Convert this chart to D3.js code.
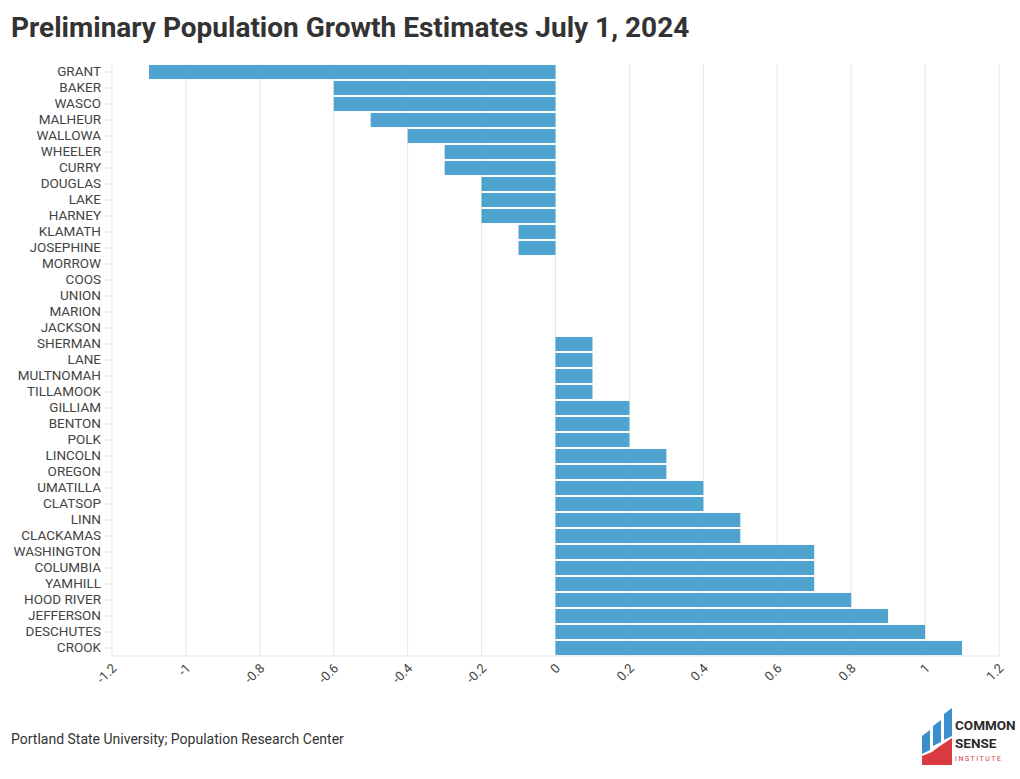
<!DOCTYPE html>
<html><head><meta charset="utf-8">
<script src="https://cdn.jsdelivr.net/npm/d3@7"></script>
<style>body{margin:0;background:#fff;font-family:Roboto,sans-serif;}</style>
</head><body><svg id="c" width="1020" height="779"></svg>
<script>
const counties = ["GRANT","BAKER","WASCO","MALHEUR","WALLOWA","WHEELER","CURRY","DOUGLAS","LAKE","HARNEY","KLAMATH","JOSEPHINE","MORROW","COOS","UNION","MARION","JACKSON","SHERMAN","LANE","MULTNOMAH","TILLAMOOK","GILLIAM","BENTON","POLK","LINCOLN","OREGON","UMATILLA","CLATSOP","LINN","CLACKAMAS","WASHINGTON","COLUMBIA","YAMHILL","HOOD RIVER","JEFFERSON","DESCHUTES","CROOK"];
const growth = [-1.1,-0.6,-0.6,-0.5,-0.4,-0.3,-0.3,-0.2,-0.2,-0.2,-0.1,-0.1,0,0,0,0,0,0.1,0.1,0.1,0.1,0.2,0.2,0.2,0.3,0.3,0.4,0.4,0.5,0.5,0.7,0.7,0.7,0.8,0.9,1.0,1.1];
const xTicks = [-1.2,-1,-0.8,-0.6,-0.4,-0.2,0,0.2,0.4,0.6,0.8,1,1.2];
const title = "Preliminary Population Growth Estimates July 1, 2024";
const source = "Portland State University; Population Research Center";

const svg = d3.select("#c");
const L = 112, R = 999, T = 64, B = 656;
const x = d3.scaleLinear().domain([-1.2,1.2]).range([L,R]);
const y = d3.scaleBand().domain(counties).range([T,B]).paddingInner(0.12).paddingOuter(0.06);

svg.append("text").attr("x",11).attr("y",37).text(title)
  .attr("font-size",28).attr("font-weight",700).attr("fill","#333").attr("font-family","Roboto");

// gridlines
svg.append("g").selectAll("line").data(xTicks).join("line")
  .attr("x1",d=>x(d)).attr("x2",d=>x(d)).attr("y1",T).attr("y2",B)
  .attr("stroke","#e6e6e6").attr("stroke-width",1);
svg.append("line").attr("x1",L).attr("x2",R).attr("y1",B).attr("y2",B).attr("stroke","#e6e6e6");

// bars
svg.append("g").selectAll("rect").data(counties).join("rect")
  .attr("x",(d,i)=>x(Math.min(0,growth[i])))
  .attr("width",(d,i)=>Math.abs(x(growth[i])-x(0)))
  .attr("y",d=>y(d)).attr("height",y.bandwidth())
  .attr("fill","#4ea3cf");

// y axis
const ya = svg.append("g").attr("transform",`translate(${L},0)`)
  .call(d3.axisLeft(y).tickSize(8).tickPadding(3));
ya.select(".domain").remove();
ya.selectAll("line").attr("stroke","#e6e6e6");
ya.selectAll("text").attr("font-size",13.5).attr("fill","#444").attr("font-family","Roboto");

// x axis
const xa = svg.append("g").attr("transform",`translate(0,${B})`)
  .call(d3.axisBottom(x).tickValues(xTicks).tickSize(0).tickPadding(0).tickFormat(d=>String(d)));
xa.select(".domain").remove();
xa.selectAll("text").attr("font-size",13).attr("fill","#444").attr("font-family","Roboto")
  .attr("text-anchor","end").attr("dy",0)
  .attr("transform","translate(5,13) rotate(-45)");

svg.append("text").attr("x",11).attr("y",744).text(source)
  .attr("font-size",14).attr("fill","#333").attr("font-family","Roboto");

// logo
const lg = svg.append("g").attr("transform","translate(920,708)");
lg.append("path").attr("d","M2 28 L10 22 L10 42 L2 46 Z").attr("fill","#3b8fcf");
lg.append("path").attr("d","M13 18 L21 12 L21 34 L13 38 Z").attr("fill","#3b8fcf");
lg.append("path").attr("d","M24 6 L32 0 L32 28 L24 32 Z").attr("fill","#3b8fcf");
lg.append("path").attr("d","M2 48 L12 44 L20 38 L32 30 L32 57 L2 57 Z").attr("fill","#d83a3f");
lg.append("text").attr("x",35).attr("y",22).text("COMMON").attr("font-size",13.5).attr("font-weight",700)
  .attr("fill","#2a2a2a").attr("font-family","Roboto");
lg.append("text").attr("x",35).attr("y",40).text("SENSE").attr("font-size",13.5).attr("font-weight",700)
  .attr("fill","#2a2a2a").attr("font-family","Roboto");
lg.append("text").attr("x",35).attr("y",53).text("INSTITUTE").attr("font-size",7)
  .attr("fill","#d83a3f").attr("font-family","Roboto").attr("letter-spacing",1.5);
</script></body></html>
